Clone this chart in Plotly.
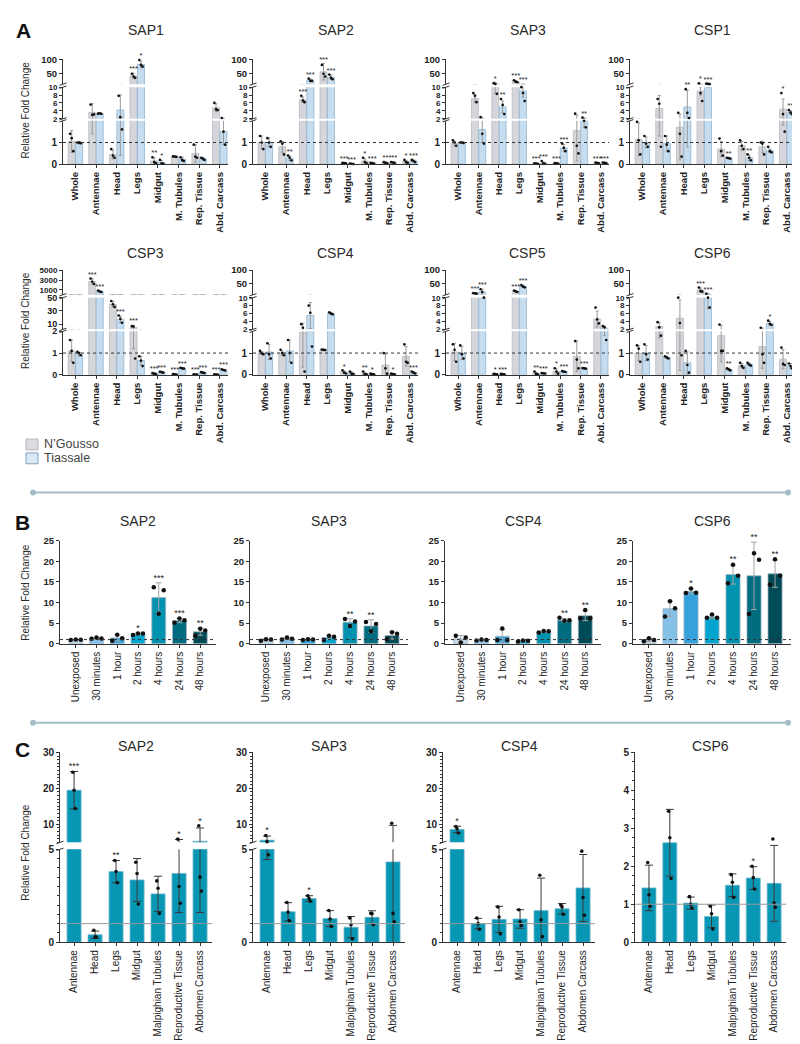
import plotly.graph_objects as go

W, H = 800, 1044
FONT = "Liberation Sans, Arial, Helvetica, sans-serif"
AXC = "#333333"

# ======================= PANEL A DATA =======================
A_TISSUES = ["Whole", "Antennae", "Head", "Legs", "Midgut", "M. Tubules", "Rep. Tissue", "Abd. Carcass"]

SAP1_NG_MEAN = [1.05, 3.6, 0.45, 40, 0.15, 0.35, 0.5, 4.8]
SAP1_NG_SD = [0.5, 2.2, 0.2, 10, 0.15, 0.02, 0.4, 1.0]
SAP1_NG_PTS = [[1.4, 1.2, 0.6], [5.6, 3.0, 3.1], [0.7, 0.4, 0.3], [48, 38, 33], [0.32, 0.1, 0.05],
               [0.36, 0.35, 0.34], [0.9, 0.35, 0.3], [6.0, 4.4, 4.2]]
SAP1_NG_SIG = ["", "", "", "***", "**", "", "", ""]
SAP1_TI_MEAN = [0.98, 3.3, 4.2, 82, 0.08, 0.22, 0.25, 1.5]
SAP1_TI_SD = [0.05, 0.1, 3.8, 12, 0.1, 0.1, 0.06, 0.6]
SAP1_TI_PTS = [[1.0, 0.99, 0.97], [3.3, 3.4, 3.25], [7.8, 2.4, 1.6], [98, 80, 74], [0.2, 0.04, 0.02],
               [0.32, 0.2, 0.15], [0.3, 0.25, 0.2], [2.2, 1.5, 0.9]]
SAP1_TI_SIG = ["", "", "", "*", "*", "", "", ""]

SAP2_NG_MEAN = [1.0, 0.8, 6.8, 55, 0.05, 0.15, 0.07, 0.12]
SAP2_NG_SD = [0.3, 0.25, 0.7, 30, 0.02, 0.1, 0.03, 0.06]
SAP2_NG_PTS = [[1.3, 1.0, 0.7], [1.05, 0.95, 0.45], [7.8, 6.6, 6.2], [80, 48, 38], [0.06, 0.05, 0.04],
               [0.3, 0.1, 0.05], [0.1, 0.06, 0.05], [0.2, 0.1, 0.06]]
SAP2_NG_SIG = ["", "", "***", "***", "***", "*", "**", "*"]
SAP2_TI_MEAN = [1.0, 0.28, 25, 35, 0.02, 0.05, 0.08, 0.15]
SAP2_TI_SD = [0.2, 0.1, 4, 8, 0.01, 0.02, 0.03, 0.05]
SAP2_TI_PTS = [[1.2, 1.0, 0.8], [0.4, 0.3, 0.18], [30, 22, 22], [45, 33, 28], [0.03, 0.02, 0.01],
               [0.07, 0.05, 0.03], [0.1, 0.08, 0.06], [0.2, 0.15, 0.1]]
SAP2_TI_SIG = ["", "**", "***", "***", "***", "***", "***", "***"]

SAP3_NG_MEAN = [0.95, 7.2, 11, 20, 0.03, 0.04, 1.55, 0.06]
SAP3_NG_SD = [0.1, 1.0, 2.6, 3, 0.01, 0.01, 1.4, 0.02]
SAP3_NG_PTS = [[1.1, 1.0, 0.85], [8.5, 7.8, 6.2], [13.5, 11, 8.3], [24, 19, 17], [0.04, 0.03, 0.02],
               [0.05, 0.04, 0.03], [3.3, 0.85, 0.5], [0.08, 0.06, 0.04]]
SAP3_NG_SIG = ["", "", "*", "***", "***", "***", "", "***"]
SAP3_TI_MEAN = [1.0, 1.6, 5.0, 9.0, 0.05, 0.75, 2.0, 0.06]
SAP3_TI_SD = [0.02, 0.6, 1.5, 1.5, 0.05, 0.15, 0.3, 0.02]
SAP3_TI_PTS = [[1.0, 1.0, 0.98], [2.4, 1.4, 0.95], [7.0, 5.5, 3.2], [10, 8.5, 6.5], [0.15, 0.04, 0.02],
               [0.95, 0.75, 0.6], [2.3, 2.0, 1.7], [0.08, 0.06, 0.05]]
SAP3_TI_SIG = ["", "", "**", "***", "***", "***", "**", "***"]

CSP1_NG_MEAN = [1.15, 4.6, 1.7, 9.0, 0.7, 0.85, 0.8, 4.4]
CSP1_NG_SD = [0.75, 3.3, 1.5, 1.0, 0.35, 0.2, 0.25, 2.6]
CSP1_NG_PTS = [[1.95, 1.1, 0.45], [7.0, 5.8, 0.8], [3.5, 1.4, 0.35], [13, 8.5, 6.5], [1.18, 0.6, 0.4],
               [1.1, 0.85, 0.7], [1.0, 0.95, 0.45], [8.5, 3.2, 1.5]]
CSP1_NG_SIG = ["", "", "", "*", "", "", "", "*"]
CSP1_TI_MEAN = [1.0, 0.95, 5.0, 11, 0.28, 0.3, 0.62, 3.6]
CSP1_TI_SD = [0.25, 0.35, 4.2, 1.0, 0.02, 0.12, 0.08, 0.5]
CSP1_TI_PTS = [[1.3, 0.95, 0.8], [1.3, 0.9, 0.6], [9.5, 3.5, 2.2], [12, 11, 10.5], [0.3, 0.28, 0.26],
               [0.45, 0.3, 0.18], [0.8, 0.6, 0.55], [4.2, 3.6, 3.2]]
CSP1_TI_SIG = ["", "", "**", "***", "**", "**", "", "**"]

CSP3_NG_MEAN = [1.1, 2700, 40, 4.6, 0.05, 0.02, 0.01, 0.01]
CSP3_NG_SD = [0.5, 500, 4, 3.4, 0.03, 0.01, 0.005, 0.005]
CSP3_NG_PTS = [[1.6, 1.1, 0.55], [3300, 2650, 2200], [45, 40, 36], [6.8, 6.2, 0.75], [0.08, 0.05, 0.03],
               [0.03, 0.02, 0.01], [0.02, 0.01, 0.01], [0.02, 0.01, 0.01]]
CSP3_NG_SIG = ["", "***", "", "***", "***", "***", "***", "***"]
CSP3_TI_MEAN = [0.95, 700, 17, 0.65, 0.12, 0.3, 0.1, 0.22]
CSP3_TI_SD = [0.08, 150, 5, 0.2, 0.02, 0.02, 0.02, 0.03]
CSP3_TI_PTS = [[1.05, 1.0, 0.9], [900, 700, 600], [23, 18, 12], [0.85, 0.65, 0.4], [0.14, 0.12, 0.1],
               [0.32, 0.3, 0.28], [0.12, 0.1, 0.08], [0.25, 0.22, 0.2]]
CSP3_TI_SIG = ["", "***", "***", "", "***", "***", "***", "***"]

CSP4_NG_MEAN = [1.0, 1.0, 1.95, 1.15, 0.12, 0.06, 0.45, 0.85]
CSP4_NG_SD = [0.07, 0.1, 1.6, 0.02, 0.06, 0.05, 0.5, 0.45]
CSP4_NG_PTS = [[1.1, 1.0, 0.95], [1.15, 1.0, 0.9], [3.3, 2.4, 0.15], [1.16, 1.15, 1.14], [0.2, 0.1, 0.06],
               [0.15, 0.03, 0.02], [1.0, 0.3, 0.05], [1.4, 0.6, 0.55]]
CSP4_NG_SIG = ["", "", "", "", "*", "**", "", ""]
CSP4_TI_MEAN = [1.05, 1.1, 5.5, 6.0, 0.08, 0.03, 0.03, 0.1]
CSP4_TI_SD = [0.35, 0.5, 3.3, 0.25, 0.05, 0.02, 0.02, 0.05]
CSP4_TI_PTS = [[1.45, 0.95, 0.75], [1.6, 1.0, 0.55], [8.0, 6.2, 1.3], [6.3, 6.0, 5.8], [0.15, 0.05, 0.03],
               [0.05, 0.03, 0.02], [0.05, 0.03, 0.02], [0.15, 0.1, 0.06]]
CSP4_TI_SIG = ["", "", "", "", "", "*", "*", "***"]

CSP5_NG_MEAN = [1.05, 15, 0.03, 22, 0.05, 0.15, 0.85, 4.6]
CSP5_NG_SD = [0.4, 1.5, 0.01, 3, 0.06, 0.12, 0.7, 2.0]
CSP5_NG_PTS = [[1.4, 1.15, 0.6], [16, 15, 14], [0.04, 0.03, 0.02], [25, 22, 20], [0.15, 0.04, 0.02],
               [0.3, 0.15, 0.05], [1.55, 0.7, 0.3], [7.5, 4.5, 3.5]]
CSP5_NG_SIG = ["", "***", "*", "***", "**", "*", "", ""]
CSP5_TI_MEAN = [1.0, 20, 0.03, 40, 0.07, 0.15, 0.3, 2.3]
CSP5_TI_SD = [0.3, 10, 0.01, 4, 0.02, 0.02, 0.02, 0.5]
CSP5_TI_PTS = [[1.35, 0.95, 0.75], [30, 20, 10], [0.04, 0.03, 0.02], [45, 40, 37], [0.08, 0.07, 0.06],
               [0.17, 0.15, 0.13], [0.31, 0.3, 0.28], [2.8, 2.5, 1.6]]
CSP5_TI_SIG = ["", "***", "***", "***", "***", "***", "***", ""]

CSP6_NG_MEAN = [1.0, 2.7, 4.8, 27, 1.8, 0.42, 1.3, 0.72]
CSP6_NG_SD = [0.35, 1.0, 4.6, 8, 1.2, 0.1, 1.0, 0.45]
CSP6_NG_PTS = [[1.35, 1.2, 0.6], [3.8, 2.5, 1.8], [10, 3.6, 0.9], [36, 24, 21], [3.2, 1.1, 1.1],
               [0.55, 0.4, 0.32], [2.4, 0.95, 0.55], [1.25, 0.5, 0.45]]
CSP6_NG_SIG = ["", "", "", "***", "", "", "", ""]
CSP6_TI_MEAN = [1.0, 0.8, 0.55, 10.5, 0.25, 0.48, 3.5, 0.4]
CSP6_TI_SD = [0.35, 0.05, 0.5, 3.3, 0.05, 0.06, 0.5, 0.12]
CSP6_TI_PTS = [[1.4, 0.95, 0.7], [0.85, 0.8, 0.75], [1.1, 0.45, 0.1], [14, 10, 7.5], [0.3, 0.25, 0.2],
               [0.55, 0.47, 0.42], [4.2, 3.4, 3.1], [0.52, 0.4, 0.3]]
CSP6_TI_SIG = ["", "", "", "***", "**", "", "*", ""]

A_GENES = ["SAP1", "SAP2", "SAP3", "CSP1", "CSP3", "CSP4", "CSP5", "CSP6"]

# ======================= PANEL B DATA =======================
B_TIMES = ["Unexposed", "30 minutes", "1 hour", "2 hours", "4 hours", "24 hours", "48 hours"]
B_GENES = ["SAP2", "SAP3", "CSP4", "CSP6"]

B_SAP2_MEAN = [0.95, 1.3, 1.4, 2.35, 11.2, 5.6, 2.9]
B_SAP2_SD = [0.05, 0.15, 0.75, 0.25, 3.6, 0.5, 0.85]
B_SAP2_PTS = [[0.9, 1.0, 0.95], [1.2, 1.5, 1.25], [0.7, 2.2, 1.3], [2.1, 2.5, 2.5], [13.7, 7.3, 13.0],
              [5.1, 6.1, 5.7], [1.9, 3.6, 3.2]]
B_SAP2_SIG = ["", "", "", "*", "***", "***", "**"]

B_SAP3_MEAN = [0.9, 1.2, 1.0, 1.5, 5.2, 4.3, 2.0]
B_SAP3_SD = [0.25, 0.25, 0.1, 0.5, 0.85, 1.5, 0.9]
B_SAP3_PTS = [[0.7, 1.1, 1.0], [1.0, 1.5, 1.2], [0.9, 1.1, 1.0], [0.9, 1.9, 1.7], [6.0, 4.3, 5.4],
              [5.3, 3.0, 4.8], [1.1, 2.8, 2.4]]
B_SAP3_SIG = ["", "", "", "", "**", "**", ""]

B_CSP4_MEAN = [1.2, 0.9, 1.8, 0.7, 2.9, 5.7, 6.8]
B_CSP4_SD = [0.8, 0.1, 1.6, 0.15, 0.2, 0.4, 1.2]
B_CSP4_PTS = [[1.9, 0.3, 1.5], [0.8, 1.0, 0.9], [0.9, 3.7, 0.9], [0.5, 0.8, 0.7], [2.7, 3.1, 3.0],
              [6.3, 5.6, 5.7], [6.2, 8.2, 6.2]]
B_CSP4_SIG = ["", "", "", "", "", "**", "**"]

B_CSP6_MEAN = [0.9, 8.5, 12.7, 6.5, 16.8, 16.5, 17.0]
B_CSP6_SD = [0.4, 1.9, 0.6, 0.45, 2.3, 8.2, 3.3]
B_CSP6_PTS = [[0.6, 1.3, 0.9], [6.6, 10.3, 8.6], [12.3, 13.4, 12.4], [6.3, 7.1, 6.3], [14.7, 19.2, 16.5],
              [7.2, 22.0, 20.4], [14.4, 20.5, 16.5]]
B_CSP6_SIG = ["", "", "*", "", "**", "**", "**"]

# ======================= PANEL C DATA =======================
C_TISSUES = ["Antennae", "Head", "Legs", "Midgut", "Malpighian Tubules", "Reproductive Tissue", "Abdomen Carcass"]
C_GENES = ["SAP2", "SAP3", "CSP4", "CSP6"]

C_SAP2_MEAN = [19.5, 0.4, 3.8, 3.35, 2.6, 3.7, 5.3]
C_SAP2_SD = [5.2, 0.2, 0.6, 1.15, 0.95, 2.1, 3.7]
C_SAP2_PTS = [[24.5, 19.5, 14.4], [0.64, 0.28, 0.28], [4.4, 3.8, 3.2], [4.3, 3.7, 2.05], [3.3, 2.9, 1.55],
              [5.9, 3.0, 2.1], [9.6, 3.5, 2.75]]
C_SAP2_SIG = ["***", "", "**", "", "", "*", "*"]

C_SAP3_MEAN = [5.6, 1.64, 2.35, 1.27, 0.81, 1.34, 4.32]
C_SAP3_SD = [1.15, 0.49, 0.15, 0.43, 0.57, 0.35, 5.4]
C_SAP3_PTS = [[6.9, 5.2, 4.7], [2.14, 1.62, 1.16], [2.5, 2.35, 2.2], [1.71, 1.25, 0.85], [1.3, 0.94, 0.18],
              [1.55, 1.53, 0.94], [10.3, 1.55, 1.1]]
C_SAP3_SIG = ["*", "", "*", "", "", "", ""]

C_CSP4_MEAN = [8.6, 1.0, 1.23, 1.25, 1.7, 1.8, 2.92]
C_CSP4_SD = [0.9, 0.28, 0.7, 0.5, 1.75, 0.28, 1.8]
C_CSP4_PTS = [[9.4, 8.8, 7.6], [1.3, 1.0, 0.7], [1.9, 1.35, 0.45], [1.75, 1.1, 0.9], [3.6, 1.2, 0.3],
              [2.0, 1.9, 1.5], [4.9, 2.4, 1.45]]
C_CSP4_SIG = ["*", "", "", "", "", "", ""]

C_CSP6_MEAN = [1.43, 2.62, 1.03, 0.68, 1.5, 1.69, 1.55]
C_CSP6_SD = [0.6, 0.88, 0.16, 0.3, 0.3, 0.3, 1.0]
C_CSP6_PTS = [[2.1, 1.25, 0.95], [3.45, 2.75, 1.68], [1.2, 1.0, 0.9], [0.95, 0.75, 0.35], [1.78, 1.58, 1.18],
              [2.0, 1.7, 1.4], [2.72, 1.03, 0.92]]
C_CSP6_SIG = ["", "", "", "", "", "*", ""]

# ======================= STYLE =======================
NG_FILL, NG_EDGE = "#d5d6db", "#b9babe"
TI_FILL, TI_EDGE = "#c6ddef", "#8fb5d3"
B_COLORS = ["#c2d9ec", "#85c0e8", "#36a2dd", "#00a6cf", "#0092ae", "#006c80", "#004b58"]
C_FILL, C_EDGE = "#0896b5", "#6fb8cb"
SEP_COLOR = "#a5bec6"

fig = go.Figure()
axes = {}
shapes = []
annots = []
counters = {"x": 0, "y": 0}


def ydom(top_px, bot_px):
    return [1 - bot_px / H, 1 - top_px / H]


def new_ref(kind):
    counters[kind] += 1
    n = counters[kind]
    return (f"{kind}axis" if n == 1 else f"{kind}axis{n}"), (kind if n == 1 else f"{kind}{n}")


def make_panel(x0, x1, xrange_, cats, xfont, segs):
    """segs: bottom-first list of dicts(top, bot, range, tickvals, ticktext, font, minor)"""
    xname, xref = new_ref("x")
    yrefs = []
    for s in segs:
        yname, yref = new_ref("y")
        ax = dict(domain=ydom(s["top"], s["bot"]), range=s["range"], anchor=xref,
                  showline=True, linecolor=AXC, linewidth=1, ticks="outside", ticklen=3,
                  tickwidth=1, tickcolor=AXC, tickvals=s["tickvals"], ticktext=s["ticktext"],
                  tickfont=dict(family=FONT, size=s["font"], color="#222", weight="bold"),
                  showgrid=False, zeroline=False, fixedrange=True)
        if s.get("minor"):
            ax["minor"] = dict(dtick=s["minor"], ticklen=2, tickcolor=AXC, ticks="outside", showgrid=False)
        axes[yname] = ax
        yrefs.append(yref)
    axes[xname] = dict(domain=[x0 / W, x1 / W], range=xrange_, anchor=yrefs[0], showline=True,
                       linecolor=AXC, linewidth=1, ticks="outside", ticklen=3, tickcolor=AXC,
                       tickvals=list(range(len(cats))), ticktext=cats, tickangle=-90,
                       tickfont=xfont, showgrid=False, zeroline=False, fixedrange=True)
    # break marks on y axis between segments
    for lower, upper in zip(segs[:-1], segs[1:]):
        for ypx in (lower["top"], upper["bot"]):
            shapes.append(dict(type="line", xref="paper", yref="paper",
                               x0=(x0 - 3.5) / W, x1=(x0 + 3.5) / W,
                               y0=1 - (ypx + 1.2) / H, y1=1 - (ypx - 1.2) / H,
                               line=dict(color=AXC, width=1)))
    return xref, yrefs


def seg_of(v, segs):
    for k, s in enumerate(segs):
        if s["range"][0] <= v <= s["range"][1]:
            return k
    return len(segs) - 1 if v > segs[-1]["range"][1] else 0


def draw_group(xref, yrefs, segs, xs, means, sds, pts, sigs, fill, edge, width,
               errc, errw, msize, offs, starsize):
    for yref, s in zip(yrefs, segs):
        fig.add_trace(go.Bar(x=xs, y=means, width=width, xaxis=xref, yaxis=yref,
                             marker=dict(color=fill, line=dict(color=edge, width=0.8)),
                             error_y=dict(type="data", array=sds, color=errc, thickness=1, width=errw),
                             showlegend=False, hoverinfo="skip"))
        lo, hi = s["range"]
        first = s is segs[0]
        px_, py_ = [], []
        for x, p in zip(xs, pts):
            for o, v in zip(offs, p):
                if (lo <= v if first else lo < v) and v <= hi:
                    px_.append(x + o)
                    py_.append(v)
        fig.add_trace(go.Scatter(x=px_, y=py_, xaxis=xref, yaxis=yref, mode="markers",
                                 marker=dict(size=msize, color="#111"), cliponaxis=False,
                                 showlegend=False, hoverinfo="skip"))
    sx = [[] for _ in segs]
    sy = [[] for _ in segs]
    st = [[] for _ in segs]
    for x, m, sd, p, sig in zip(xs, means, sds, pts, sigs):
        if not sig:
            continue
        a = max(m + sd, max(p))
        k = seg_of(a, segs)
        a = min(a, segs[k]["range"][1])
        sx[k].append(x)
        sy[k].append(a)
        st[k].append(sig)
    for k, yref in enumerate(yrefs):
        if sx[k]:
            fig.add_trace(go.Scatter(x=sx[k], y=sy[k], text=st[k], mode="text", textposition="top center",
                                     textfont=dict(family=FONT, size=starsize, color="#222"),
                                     xaxis=xref, yaxis=yref, cliponaxis=False,
                                     showlegend=False, hoverinfo="skip"))


def ref_line(xref, yref, dash, color):
    shapes.append(dict(type="line", xref=f"{xref} domain", yref=yref, x0=0, x1=1, y0=1, y1=1,
                       line=dict(color=color, width=1, dash=dash), layer="above"))


def title(text, cx, cy, size=14):
    annots.append(dict(text=text, x=cx / W, y=1 - cy / H, xref="paper", yref="paper",
                       xanchor="center", yanchor="middle", showarrow=False,
                       font=dict(family=FONT, size=size, color="#2a2a2a")))


def ytitle(cy):
    annots.append(dict(text="Relative Fold Change", x=17.5 / W, y=1 - cy / H, xref="paper",
                       yref="paper", xanchor="center", yanchor="middle", textangle=-90,
                       showarrow=False, font=dict(family=FONT, size=10, color="#2a2a2a")))


def letter(text, cx, cy):
    annots.append(dict(text=f"<b>{text}</b>", x=cx / W, y=1 - cy / H, xref="paper", yref="paper",
                       xanchor="center", yanchor="middle", showarrow=False,
                       font=dict(family=FONT, size=21, color="#111")))


# ======================= BUILD PANEL A =======================
A_COLS = [(55, 220), (245, 410), (438, 601), (622, 787)]
A_ROW_TOP = [46, 259]
A_TITLE_Y = [16, 242]
A_XFONT = dict(family=FONT, size=9.5, color="#222", weight="bold")

A_SETS = [
    (SAP1_NG_MEAN, SAP1_NG_SD, SAP1_NG_PTS, SAP1_NG_SIG, SAP1_TI_MEAN, SAP1_TI_SD, SAP1_TI_PTS, SAP1_TI_SIG),
    (SAP2_NG_MEAN, SAP2_NG_SD, SAP2_NG_PTS, SAP2_NG_SIG, SAP2_TI_MEAN, SAP2_TI_SD, SAP2_TI_PTS, SAP2_TI_SIG),
    (SAP3_NG_MEAN, SAP3_NG_SD, SAP3_NG_PTS, SAP3_NG_SIG, SAP3_TI_MEAN, SAP3_TI_SD, SAP3_TI_PTS, SAP3_TI_SIG),
    (CSP1_NG_MEAN, CSP1_NG_SD, CSP1_NG_PTS, CSP1_NG_SIG, CSP1_TI_MEAN, CSP1_TI_SD, CSP1_TI_PTS, CSP1_TI_SIG),
    (CSP3_NG_MEAN, CSP3_NG_SD, CSP3_NG_PTS, CSP3_NG_SIG, CSP3_TI_MEAN, CSP3_TI_SD, CSP3_TI_PTS, CSP3_TI_SIG),
    (CSP4_NG_MEAN, CSP4_NG_SD, CSP4_NG_PTS, CSP4_NG_SIG, CSP4_TI_MEAN, CSP4_TI_SD, CSP4_TI_PTS, CSP4_TI_SIG),
    (CSP5_NG_MEAN, CSP5_NG_SD, CSP5_NG_PTS, CSP5_NG_SIG, CSP5_TI_MEAN, CSP5_TI_SD, CSP5_TI_PTS, CSP5_TI_SIG),
    (CSP6_NG_MEAN, CSP6_NG_SD, CSP6_NG_PTS, CSP6_NG_SIG, CSP6_TI_MEAN, CSP6_TI_SD, CSP6_TI_PTS, CSP6_TI_SIG),
]


def a_segments(row_top, gene):
    if gene == "CSP3":
        specs = [([0, 2], [0, 1, 2], ["0", "1", "2"]),
                 ([2, 50], [10, 30, 50], ["10", "30", "50"]),
                 ([50, 5000], [1000, 3000, 5000], ["1000", "3000", "5000"])]
        fonts = [9, 9, 8]
    else:
        specs = [([0, 2], [0, 1], ["0", "1"]),
                 ([2, 10], [2, 4, 6, 8, 10], ["2", "4", "6", "8", "10"]),
                 ([10, 100], [50, 100], ["50", "100"])]
        fonts = [10, 8, 9.5]
    pos = [(62, 106), (28, 60), (0, 25)]
    out = []
    for (rng, tv, tt), (t, b), f in zip(specs, pos, fonts):
        out.append(dict(top=row_top + t, bot=row_top + b, range=rng, tickvals=tv, ticktext=tt, font=f))
    return out


for gi, gene in enumerate(A_GENES):
    row, col = divmod(gi, 4)
    x0, x1 = A_COLS[col]
    segs = a_segments(A_ROW_TOP[row], gene)
    xref, yrefs = make_panel(x0, x1, [-0.6, 7.4], A_TISSUES, A_XFONT, segs)
    ngm, ngs, ngp, ngsig, tim, tis, tip, tisig = A_SETS[gi]
    idx = list(range(len(A_TISSUES)))
    draw_group(xref, yrefs, segs, [i - 0.18 for i in idx], ngm, ngs, ngp, ngsig,
               NG_FILL, NG_EDGE, 0.34, "#9a9a9a", 1.5, 2.7, [-0.08, 0, 0.08], 7.5)
    draw_group(xref, yrefs, segs, [i + 0.18 for i in idx], tim, tis, tip, tisig,
               TI_FILL, TI_EDGE, 0.34, "#9a9a9a", 1.5, 2.7, [-0.08, 0, 0.08], 7.5)
    ref_line(xref, yrefs[0], "dot", "#333")
    title(gene, (x0 + x1) / 2, A_TITLE_Y[row])

ytitle(97)
ytitle(310)
letter("A", 15, 17)

# legend
for (label, fill, edge, ty) in [("N’Gousso", "#dcdde1", "#b3b4b8", 430), ("Tiassale", "#d8e8f4", "#7ea6c6", 444)]:
    shapes.append(dict(type="rect", xref="paper", yref="paper", x0=18 / W, x1=30 / W,
                       y0=1 - (ty + 11) / H, y1=1 - ty / H, fillcolor=fill, line=dict(color=edge, width=1)))
    annots.append(dict(text=label, x=34 / W, y=1 - (ty + 5.5) / H, xref="paper", yref="paper",
                       xanchor="left", yanchor="middle", showarrow=False,
                       font=dict(family=FONT, size=12.5, color="#444")))

# separators
for sy in (484, 717):
    shapes.append(dict(type="line", xref="paper", yref="paper", x0=25 / W, x1=780 / W,
                       y0=1 - sy / H, y1=1 - sy / H, line=dict(color=SEP_COLOR, width=2)))
    for cx in (25, 780):
        shapes.append(dict(type="circle", xref="paper", yref="paper", x0=(cx - 3) / W, x1=(cx + 3) / W,
                           y0=1 - (sy + 3) / H, y1=1 - (sy - 3) / H, fillcolor=SEP_COLOR,
                           line=dict(color=SEP_COLOR, width=0)))

# ======================= BUILD PANEL B =======================
B_COLS = [(52, 208), (242, 400), (437, 593), (625, 783)]
B_XFONT = dict(family=FONT, size=10, color="#222")
B_SETS = [(B_SAP2_MEAN, B_SAP2_SD, B_SAP2_PTS, B_SAP2_SIG),
          (B_SAP3_MEAN, B_SAP3_SD, B_SAP3_PTS, B_SAP3_SIG),
          (B_CSP4_MEAN, B_CSP4_SD, B_CSP4_PTS, B_CSP4_SIG),
          (B_CSP6_MEAN, B_CSP6_SD, B_CSP6_PTS, B_CSP6_SIG)]
for gi, gene in enumerate(B_GENES):
    x0, x1 = B_COLS[gi]
    segs = [dict(top=533, bot=637, range=[0, 25], tickvals=[0, 5, 10, 15, 20, 25],
                 ticktext=["0", "5", "10", "15", "20", "25"], font=9.5)]
    xref, yrefs = make_panel(x0, x1, [-0.76, 6.76], B_TIMES, B_XFONT, segs)
    m, s, p, sig = B_SETS[gi]
    draw_group(xref, yrefs, segs, list(range(len(B_TIMES))), m, s, p, sig,
               B_COLORS, "#9db3bf", 0.67, "#a5a5a5", 3, 4.5, [-0.24, 0, 0.24], 9)
    ref_line(xref, yrefs[0], "dot", "#333")
    title(gene, (x0 + x1) / 2, 513)
ytitle(585)
letter("B", 14, 514)

# ======================= BUILD PANEL C =======================
C_COLS = [(52, 204), (245, 397), (435, 587), (627, 778)]
C_XFONT = dict(family=FONT, size=10, color="#222")
C_SETS = [(C_SAP2_MEAN, C_SAP2_SD, C_SAP2_PTS, C_SAP2_SIG),
          (C_SAP3_MEAN, C_SAP3_SD, C_SAP3_PTS, C_SAP3_SIG),
          (C_CSP4_MEAN, C_CSP4_SD, C_CSP4_PTS, C_CSP4_SIG),
          (C_CSP6_MEAN, C_CSP6_SD, C_CSP6_PTS, C_CSP6_SIG)]
for gi, gene in enumerate(C_GENES):
    x0, x1 = C_COLS[gi]
    if gene == "CSP6":
        segs = [dict(top=747, bot=939, range=[0, 5], tickvals=[0, 1, 2, 3, 4, 5],
                     ticktext=["0", "1", "2", "3", "4", "5"], font=10, minor=0.25)]
    else:
        segs = [dict(top=845, bot=939, range=[0, 5], tickvals=[0, 5], ticktext=["0", "5"], font=10, minor=0.5),
                dict(top=747, bot=838, range=[5, 30], tickvals=[10, 20, 30], ticktext=["10", "20", "30"],
                     font=10, minor=1)]
    xref, yrefs = make_panel(x0, x1, [-0.67, 6.57], C_TISSUES, C_XFONT, segs)
    m, s, p, sig = C_SETS[gi]
    draw_group(xref, yrefs, segs, list(range(len(C_TISSUES))), m, s, p, sig,
               C_FILL, C_EDGE, 0.67, "#3a3a3a", 4, 3.6, [-0.06, 0, 0.06], 9)
    ref_line(xref, yrefs[0], "solid", "#9a9a9a")
    title(gene, (x0 + x1) / 2, 741)
ytitle(848)
letter("C", 14, 744)

fig.update_layout(width=W, height=H, margin=dict(l=0, r=0, t=0, b=0), paper_bgcolor="white",
                  plot_bgcolor="white", barmode="overlay", showlegend=False, hovermode=False,
                  font=dict(family=FONT), shapes=shapes, annotations=annots, **axes)

fig.write_html("out.html")
